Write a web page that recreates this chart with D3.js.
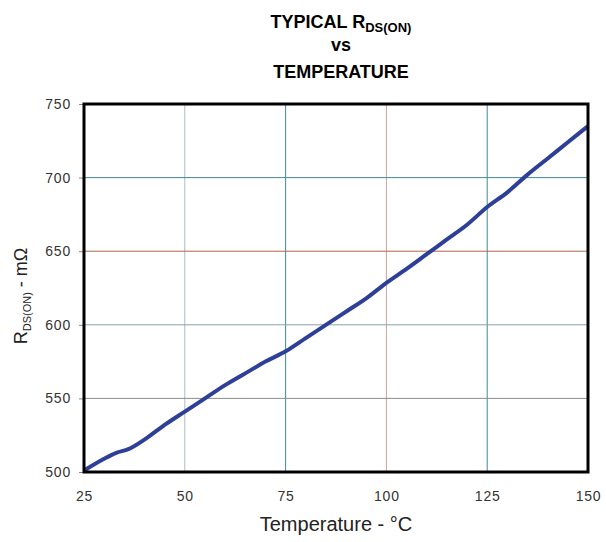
<!DOCTYPE html>
<html>
<head>
<meta charset="utf-8">
<script src="https://cdn.jsdelivr.net/npm/d3@7"></script>
<style>
    body { margin: 0; background: #fff; }
    text { font-family: "Liberation Sans", Arial, sans-serif; }
</style>
</head>
<body>
<svg id="chart" width="606" height="542"></svg>
<script>
// values
var temperature = [25, 30, 33, 36, 40, 45, 50, 55, 60, 65, 70, 75, 80, 85, 90, 95,
    100, 105, 110, 115, 120, 125, 130, 135, 140, 145, 150];
var rdsOn = [501, 509, 513, 515.5, 522, 532, 541, 550, 559, 567, 575, 582, 591, 600, 609, 618,
    628.5, 638, 648, 658, 668, 680, 690, 702, 713, 724, 735];
var xTicks = [25, 50, 75, 100, 125, 150];
var yTicks = [500, 550, 600, 650, 700, 750];
var xGridColors = {50: '#a9bdc8', 75: '#3f8a9c', 100: '#c9a596', 125: '#3f8a9c'};
var yGridColors = {550: '#8c8c8c', 600: '#8aa2ae', 650: '#b0654a', 700: '#3f8a9c'};

var svg = d3.select('#chart');
var margin = {left: 84, right: 18, top: 104, bottom: 70};
var width = 606 - margin.left - margin.right;
var height = 542 - margin.top - margin.bottom;

var x = d3.scaleLinear().domain([25, 150]).range([0, width]);
var y = d3.scaleLinear().domain([500, 750]).range([height, 0]);

var g = svg.append('g').attr('transform', 'translate(' + margin.left + ',' + margin.top + ')');

// grid
g.selectAll('.xgrid').data(xTicks.filter(function(d) { return xGridColors[d]; }))
    .enter().append('line')
    .attr('x1', function(d) { return x(d); }).attr('x2', function(d) { return x(d); })
    .attr('y1', 0).attr('y2', height)
    .attr('stroke', function(d) { return xGridColors[d]; })
    .attr('stroke-width', 1);

g.selectAll('.ygrid').data(yTicks.filter(function(d) { return yGridColors[d]; }))
    .enter().append('line')
    .attr('x1', 0).attr('x2', width)
    .attr('y1', function(d) { return y(d); }).attr('y2', function(d) { return y(d); })
    .attr('stroke', function(d) { return yGridColors[d]; })
    .attr('stroke-width', 1);

// axes
var yAxis = g.append('g')
    .call(d3.axisLeft(y).tickValues(yTicks).tickSize(5).tickPadding(8));
yAxis.select('.domain').remove();
yAxis.selectAll('line').attr('stroke', '#888');
yAxis.selectAll('text').attr('font-size', 14).attr('letter-spacing', 0.8).attr('fill', '#333');

var xAxis = g.append('g')
    .attr('transform', 'translate(0,' + height + ')')
    .call(d3.axisBottom(x).tickValues(xTicks).tickSize(0).tickPadding(19));
xAxis.select('.domain').remove();
xAxis.selectAll('text').attr('font-size', 14).attr('letter-spacing', 0.8).attr('fill', '#333');

// curve
g.append('path')
    .datum(temperature.map(function(t, i) { return [t, rdsOn[i]]; }))
    .attr('fill', 'none')
    .attr('stroke', '#2e3f98')
    .attr('stroke-width', 4)
    .attr('stroke-linejoin', 'round')
    .attr('d', d3.line().curve(d3.curveMonotoneX)
        .x(function(d) { return x(d[0]); }).y(function(d) { return y(d[1]); }));

// frame
g.append('rect')
    .attr('width', width).attr('height', height)
    .attr('fill', 'none').attr('stroke', '#000').attr('stroke-width', 3);

// titles
var title = svg.append('text')
    .attr('x', 341).attr('text-anchor', 'middle')
    .attr('font-size', 18).attr('font-weight', 'bold');
title.append('tspan').attr('x', 341).attr('y', 28).text('TYPICAL R');
title.append('tspan').attr('dy', 4).attr('font-size', 13).text('DS(ON)');
svg.append('text').attr('x', 341).attr('y', 51).attr('text-anchor', 'middle')
    .attr('font-size', 18).attr('font-weight', 'bold').text('vs');
svg.append('text').attr('x', 341).attr('y', 78).attr('text-anchor', 'middle')
    .attr('font-size', 18).attr('font-weight', 'bold').text('TEMPERATURE');

svg.append('text')
    .attr('x', margin.left + width / 2).attr('y', 531)
    .attr('text-anchor', 'middle').attr('font-size', 20).attr('fill', '#222')
    .text('Temperature - °C');

var yLabel = svg.append('text')
    .attr('transform', 'translate(27,' + (margin.top + height / 2 + 8) + ') rotate(-90)')
    .attr('text-anchor', 'middle').attr('font-size', 18).attr('fill', '#222');
yLabel.append('tspan').text('R');
yLabel.append('tspan').attr('dy', 4).attr('font-size', 11).text('DS(ON)');
yLabel.append('tspan').attr('dy', -4).text(' - mΩ');
</script>
</body>
</html>
